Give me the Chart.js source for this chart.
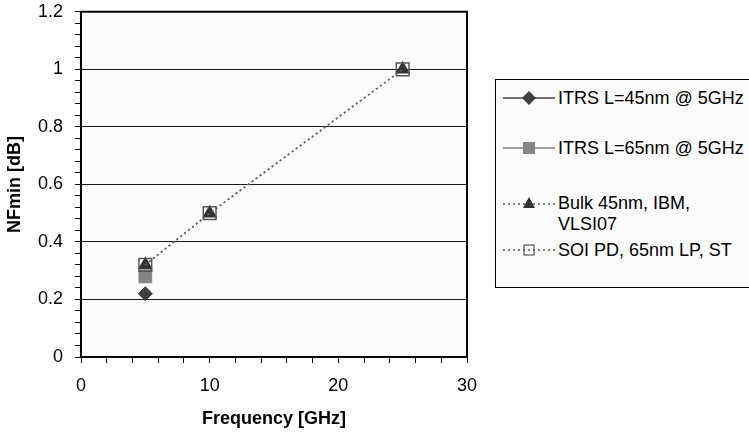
<!DOCTYPE html>
<html>
<head>
<meta charset="utf-8">
<script src="https://cdn.jsdelivr.net/npm/chart.js@4.4.1/dist/chart.umd.min.js"></script>
<style>
  html, body { margin: 0; padding: 0; background: #ffffff; overflow: hidden; }
  #wrap { position: relative; width: 749px; height: 435px; overflow: hidden; }
  #c { position: absolute; left: 0; top: -11px; }
  #legend { position: absolute; left: 495px; top: 79px; width: 270px; height: 209px;
            border: 1px solid #000; background: #fcfcfc; box-sizing: border-box; }
  .item { position: absolute; left: 0; font-family: "Liberation Sans", Arial, sans-serif;
          font-size: 18px; color: #000; white-space: nowrap; }
  .item svg { position: absolute; left: 5px; }
  .item span { position: absolute; left: 62px; line-height: 21px; }
</style>
</head>
<body>
<div id="wrap">
  <canvas id="c" width="749" height="446"></canvas>
  <div id="legend"></div>
</div>
<script>
// ---- data ----
const seriesNames = ["ITRS L=45nm @ 5GHz", "ITRS L=65nm @ 5GHz", "Bulk 45nm, IBM,\nVLSI07", "SOI PD, 65nm LP, ST"];
const itrs45X = [5];
const itrs45Y = [0.22];
const itrs65X = [5];
const itrs65Y = [0.28];
const bulkX = [5, 10, 25];
const bulkY = [0.32, 0.5, 1.0];
const soiX = [5, 10, 25];
const soiY = [0.32, 0.5, 1.0];
const xTickLabels = [0, 10, 20, 30];
const yTickLabels = [0, 0.2, 0.4, 0.6, 0.8, 1, 1.2];

const pts = (xs, ys) => xs.map((x, i) => ({x: x, y: ys[i]}));

const frame = {
  id: 'frame',
  beforeDraw(chart) {
    const a = chart.chartArea, ctx = chart.ctx;
    ctx.save();
    ctx.fillStyle = '#fcfcfc';
    ctx.fillRect(a.left, a.top, a.right - a.left, a.bottom - a.top);
    ctx.restore();
  },
  afterDraw(chart) {
    const a = chart.chartArea, ctx = chart.ctx;
    ctx.save();
    ctx.strokeStyle = '#000';
    ctx.lineWidth = 2;
    ctx.beginPath();
    ctx.moveTo(a.left, a.top);
    ctx.lineTo(a.right, a.top);
    ctx.lineTo(a.right, a.bottom);
    ctx.stroke();
    ctx.restore();
  }
};

const isMajor = (v, step) => Math.abs(v / step - Math.round(v / step)) < 1e-6;

new Chart(document.getElementById('c'), {
  type: 'scatter',
  data: {
    datasets: [
      { label: seriesNames[0], data: pts(itrs45X, itrs45Y), pointStyle: 'rectRot', pointRadius: 7,
        backgroundColor: '#404040', borderColor: '#404040', borderWidth: 1, showLine: false, order: 3 },
      { label: seriesNames[1], data: pts(itrs65X, itrs65Y), pointStyle: 'rect', pointRadius: 9,
        backgroundColor: '#858585', borderColor: '#858585', borderWidth: 1, showLine: false, order: 2 },
      { label: seriesNames[2], data: pts(bulkX, bulkY), pointStyle: 'triangle', pointRadius: 7,
        backgroundColor: '#333333', pointBorderColor: '#333333', borderColor: '#666666', borderWidth: 1.5,
        borderDash: [2, 3], showLine: true, order: 1 },
      { label: seriesNames[3], data: pts(soiX, soiY), pointStyle: 'rect', pointRadius: 9,
        backgroundColor: 'rgba(0,0,0,0)', pointBorderColor: '#555555', pointBorderWidth: 1.5,
        borderColor: '#666666', borderWidth: 1.5, borderDash: [2, 3], showLine: true, order: 0 }
    ]
  },
  options: {
    responsive: false,
    animation: false,
    events: [],
    layout: { padding: { left: 0, top: 0, right: 282, bottom: 0 } },
    plugins: { legend: { display: false }, tooltip: { enabled: false } },
    scales: {
      x: {
        type: 'linear', min: 0, max: 30,
        afterFit(s) { s.height = 78; },
        ticks: {
          stepSize: 2, autoSkip: false, maxRotation: 0, padding: 12, color: '#000',
          font: { family: 'Liberation Sans, Arial, sans-serif', size: 18 },
          callback: (v) => xTickLabels.includes(v) ? String(v) : ''
        },
        grid: { drawOnChartArea: false, drawTicks: true, tickLength: 6, tickColor: '#000', tickWidth: 1 },
        border: { display: true, color: '#000', width: 2 },
        title: { display: true, text: 'Frequency [GHz]', color: '#000', padding: { top: 0, bottom: 5 },
                 font: { family: 'Liberation Sans, Arial, sans-serif', size: 18, weight: 'bold' } }
      },
      y: {
        type: 'linear', min: 0, max: 1.2,
        afterFit(s) { s.width = 81; },
        ticks: {
          stepSize: 0.04, autoSkip: false, padding: 12, color: '#000',
          font: { family: 'Liberation Sans, Arial, sans-serif', size: 18 },
          callback: (v) => {
            const m = yTickLabels.find(t => Math.abs(t - v) < 1e-6);
            return m === undefined ? '' : String(m);
          }
        },
        grid: {
          drawTicks: true, tickLength: 6, tickWidth: 1, tickColor: '#000',
          color: (ctx) => (ctx.tick && isMajor(ctx.tick.value, 0.2) && ctx.tick.value > 0.01 && ctx.tick.value < 1.19) ? '#1a1a1a' : 'rgba(0,0,0,0)',
          lineWidth: 1
        },
        border: { display: true, color: '#000', width: 2 },
        title: { display: true, text: 'NFmin [dB]', color: '#000', padding: { top: 4, bottom: 0 },
                 font: { family: 'Liberation Sans, Arial, sans-serif', size: 18, weight: 'bold' } }
      }
    }
  },
  plugins: [frame]
});

// ---- HTML legend ----
const legendRows = [
  { top: 8, lineY: 10, dash: '', lineColor: '#404040', marker: 'diamond', fill: '#404040' },
  { top: 58, lineY: 10, dash: '', lineColor: '#858585', marker: 'square', fill: '#858585' },
  { top: 113, lineY: 11, dash: '2,3', lineColor: '#555555', marker: 'triangle', fill: '#333333' },
  { top: 160, lineY: 10, dash: '2,3', lineColor: '#555555', marker: 'open', fill: 'none' }
];
const leg = document.getElementById('legend');
legendRows.forEach((r, i) => {
  const d = document.createElement('div');
  d.className = 'item';
  d.style.top = r.top + 'px';
  let m = '';
  const cx = 28, cy = r.lineY;
  if (r.marker === 'diamond') m = `<polygon points="${cx},${cy-7} ${cx+7},${cy} ${cx},${cy+7} ${cx-7},${cy}" fill="${r.fill}"/>`;
  if (r.marker === 'square') m = `<rect x="${cx-6}" y="${cy-6}" width="12" height="12" fill="${r.fill}"/>`;
  if (r.marker === 'triangle') m = `<polygon points="${cx},${cy-7} ${cx+6},${cy+4} ${cx-6},${cy+4}" fill="${r.fill}"/>`;
  if (r.marker === 'open') m = `<rect x="${cx-5}" y="${cy-5}" width="10" height="10" fill="none" stroke="#555" stroke-width="1.2"/>`;
  const dashAttr = r.dash ? `stroke-dasharray="${r.dash}"` : '';
  d.innerHTML = `<svg width="60" height="22" style="top:0px"><line x1="2" y1="${cy}" x2="54" y2="${cy}" stroke="${r.lineColor}" stroke-width="1.5" ${dashAttr}/>${m}</svg>` +
    `<span style="top:0px">${seriesNames[i].replace('\n', '<br>')}</span>`;
  leg.appendChild(d);
});
</script>
</body>
</html>
